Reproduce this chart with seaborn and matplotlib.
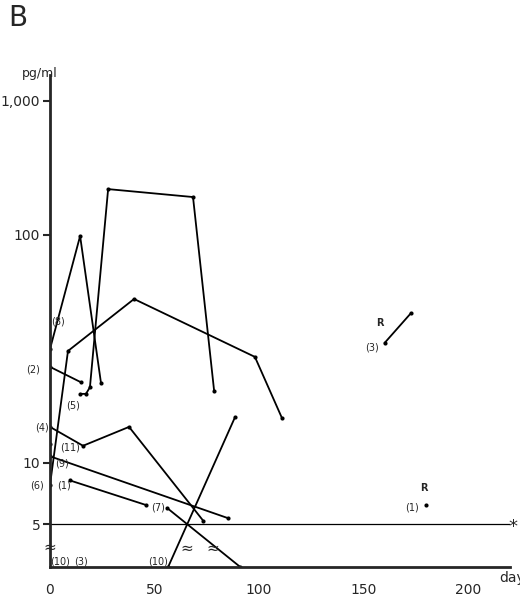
import numpy as np
import pandas as pd
import matplotlib
matplotlib.use("Agg")
import matplotlib.pyplot as plt
import seaborn as sns

# patient series: day, pg/ml (0 = below detection)
s8_day = [0, 14.4, 24.4]
s8_val = [31.6, 99, 22.4]
s5_day = [14.4, 17.2, 19.1, 27.8, 68.4, 78.5]
s5_val = [20.1, 20.1, 21.5, 220, 192, 20.7]
s6_day = [0, 8.6, 40.2, 98, 111]
s6_val = [7.8, 31.0, 52.4, 29.2, 15.7]
s2_day = [0, 14.8]
s2_val = [26.4, 22.6]
s4_day = [0, 15.8, 37.8, 73.2]
s4_val = [14.4, 11.9, 14.4, 5.2]
s11_day = [0]
s11_val = [12.1]
s9_day = [0, 85]
s9_val = [10.7, 5.35]
s1_day = [9.6, 46]
s1_val = [8.2, 6.2]
s7_day = [56, 91]
s7_val = [6.0, 0]
s10_day = [56.5, 88.5]
s10_val = [0, 15.9]
s3r_day = [160, 172.7]
s3r_val = [33.6, 45.5]
s1r_day = [180]
s1r_val = [6.2]

series = [(s8_day, s8_val), (s5_day, s5_val), (s6_day, s6_val), (s2_day, s2_val),
          (s4_day, s4_val), (s11_day, s11_val), (s9_day, s9_val), (s1_day, s1_val),
          (s7_day, s7_val), (s10_day, s10_val), (s3r_day, s3r_val), (s1r_day, s1r_val)]

ytick_vals = [5, 10, 100, 1000]
ytick_labels = ["5", "10", "100", "1,000"]
xticks = [0, 50, 100, 150, 200]


def to_pos(v):
    # broken log axis: compressed above 100, break below 5
    v = np.asarray(v, dtype=float)
    lv = np.log10(np.where(v > 0, v, 1))
    pos = np.interp(lv, [np.log10(5), 1, 2, 3], [78, 139, 367, 501])
    return np.where(v > 0, pos, 35)


sns.set_style("white")
fig = plt.figure(figsize=(5.2, 6.02), dpi=100)
ax = fig.add_axes([50 / 520, 35 / 602, 460 / 520, 492 / 602])
ax.set_xlim(0, 220)
ax.set_ylim(35, 527)

for d, v in series:
    sns.lineplot(x=d, y=to_pos(v), ax=ax, color="black", lw=1.3, marker="o",
                 markersize=3, markeredgewidth=0, estimator=None, sort=False)

ax.axhline(to_pos([5])[0], color="black", lw=0.9)

for s in ["top", "right"]:
    ax.spines[s].set_visible(False)
ax.spines["left"].set_linewidth(2)
ax.spines["bottom"].set_linewidth(2)
ax.set_yticks(to_pos(ytick_vals))
ax.set_yticklabels(ytick_labels, fontsize=10)
ax.set_xticks(xticks)
ax.set_xticklabels([str(x) for x in xticks], fontsize=10)
ax.tick_params(axis="y", left=True, length=5, width=1.5, direction="out", pad=2)
ax.tick_params(axis="x", bottom=False, pad=8)


def px(x, y):
    return (x - 50) / 2.09, 602 - y


labels = [("(8)", 58, 321), ("(2)", 33, 370), ("(5)", 73, 405), ("(4)", 42, 428),
          ("(11)", 70, 448), ("(9)", 62, 464), ("(6)", 37, 485), ("(1)", 64, 485),
          ("(7)", 158, 508), ("(10)", 60, 562), ("(3)", 81, 562), ("(10)", 158, 562),
          ("R", 380, 323), ("(3)", 372, 348), ("R", 424, 488), ("(1)", 412, 508)]
for t, x, y in labels:
    bx, by = px(x, y)
    ax.text(bx, by, t, fontsize=7, ha="center", va="center", clip_on=False,
            fontweight="bold" if t == "R" else "normal")

for x, y in [(50, 547), (187, 548), (213, 548)]:
    bx, by = px(x, y)
    ax.text(bx, by, "≈", fontsize=11, ha="center", va="center")

bx, by = px(513, 527)
ax.text(bx, by, "*", fontsize=13, ha="center", va="center", clip_on=False)
fig.text(512 / 520, 1 - 578 / 602, "day", fontsize=10, ha="center", va="center")
fig.text(22 / 520, 1 - 74 / 602, "pg/ml", fontsize=9, ha="left", va="center")
fig.text(8 / 520, 1 - 18 / 602, "B", fontsize=20, ha="left", va="center")

fig.savefig("out.png", dpi=100)
